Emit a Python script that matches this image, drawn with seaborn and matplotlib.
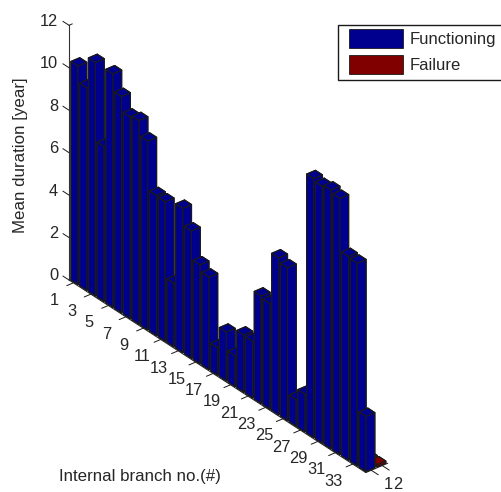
import numpy as np
import seaborn as sns
import matplotlib
matplotlib.use('Agg')
import matplotlib.pyplot as plt
from matplotlib.patches import Patch, Rectangle
from mpl_toolkits.mplot3d import proj3d

branches = list(range(1, 35))
functioning = [10.3, 9.55, 11.0, 7.3, 11.0, 10.2, 9.5, 9.6, 8.9, 6.6, 6.57, 3.0,
               6.8, 6.0, 4.67, 4.36, 1.3, 2.3, 1.46, 2.7, 2.67, 5.07, 4.98, 7.4,
               7.2, 1.26, 1.78, 12.2, 12.1, 12.2, 12.07, 9.6, 9.55, 2.6]
failure = [0.1] * 34
series_names = ['Functioning', 'Failure']
branch_ticks = list(range(1, 34, 2))
duration_ticks = [0, 2, 4, 6, 8, 10, 12]
state_ticks = [1, 2]

sns.set_theme(style='white')
plt.rcParams['font.family'] = ['Liberation Sans', 'DejaVu Sans']
colors = sns.color_palette(['#00008f', '#800000'])

W, H = 501, 492
fig = plt.figure(figsize=(W / 100, H / 100), dpi=100)
ax = fig.add_axes([-0.5, -0.5, 2, 2], projection='3d', proj_type='ortho',
                  computed_zorder=False)

# back to front, so the painter order is right
for n, b in enumerate(branches):
    ax.bar3d(b - 0.4, 1.6, 0, 0.8, 0.8, failure[n], color=colors[1], edgecolor='k',
             shade=False, linewidth=0.85, zorder=10 + 2 * n)
    ax.bar3d(b - 0.4, 0.6, 0, 0.8, 0.8, functioning[n], color=colors[0], edgecolor='k',
             shade=False, linewidth=0.85, zorder=11 + 2 * n)

ax.set_xlim(0.5, 34.5)
ax.set_ylim(0.5, 2.5)
ax.set_zlim(0, 12)
ax.view_init(elev=31.7, azim=-39)
aspect = (472.6, 28.3, 300)
ax.set_box_aspect(aspect)
ax.set_axis_off()

# axes lines and ticks
line = dict(color='k', lw=0.7, zorder=2)
ax.plot([0.5, 0.5], [0.5, 0.5], [0, 12], color='#333333', lw=0.8, zorder=2)
ax.plot([0.5, 34.5], [0.5, 0.5], [0, 0], **line)
ax.plot([34.5, 34.5], [0.5, 2.5], [0, 0], **line)
ax.plot([0.5, 0.5], [0.5, 0.8], [12, 12], **line)
for t in branch_ticks:
    ax.plot([t, t], [0.5, -0.1], [0, 0], **line)
for t in duration_ticks:
    ax.plot([0.5, -0.2], [0.5, 0.5], [t, t], **line)
for t in state_ticks:
    ax.plot([34.5, 35.3], [t, t], [0, 0], **line)


def to_px(x, y, z):
    px, py, _ = proj3d.proj_transform(x, y, z, ax.get_proj())
    return ax.transData.transform((px, py))


# line the 3d box up with the picture: axis corner at (69, 280), far end 297 px along
fig.canvas.draw()
p0, p1 = to_px(0.5, 0.5, 0), to_px(34.5, 0.5, 0)
ax.set_box_aspect(aspect, zoom=296.8 / (p1[0] - p0[0]))
fig.canvas.draw()
p0 = to_px(0.5, 0.5, 0)
shift = (69 - p0[0], H - 280 - p0[1])
pos = ax.get_position()
ax.set_position([pos.x0 + shift[0] / W, pos.y0 + shift[1] / H, pos.width, pos.height])
fig.canvas.draw()


def tick_label(point, dx, dy, text, ha='center'):
    p = to_px(*point)
    fig.text((p[0] + dx) / W, (p[1] + dy) / H, text, fontsize=11.8, ha=ha, va='center')


for t in branch_ticks:
    tick_label((t, 0.5, 0), -19, -17.2, str(t))
for t in duration_ticks:
    tick_label((0.5, 0.5, t), -11, 4, str(t), ha='right')
# these two share a baseline in the original
p_state = to_px(34.5, state_ticks[0], 0)
for i, t in enumerate(state_ticks):
    fig.text((p_state[0] + 16.7 + 10 * i) / W, (p_state[1] - 14) / H, str(t), fontsize=11.8,
             ha='center', va='center')

fig.text(21 / W, 1 - 155 / H, 'Mean duration [year]', rotation=90, fontsize=12.2,
         ha='center', va='center')
fig.text(59 / W, 1 - 477 / H, 'Internal branch no.(#)', fontsize=12.2, ha='left', va='center')

# legend frame runs off the right edge of the picture
fig.add_artist(Rectangle((338 / W, 1 - 80 / H), 170 / W, 55 / H, transform=fig.transFigure,
                         facecolor='white', edgecolor='k', linewidth=1.0, zorder=5))
handles = [Patch(facecolor=colors[i], edgecolor='k', linewidth=0.6, label=series_names[i])
           for i in range(2)]
leg = fig.legend(handles=handles, loc='upper left', bbox_to_anchor=(349 / W, 1 - 29 / H),
                 borderaxespad=0, fontsize=12, handlelength=3.23, handleheight=1.38,
                 labelspacing=0.44, handletextpad=0.4, borderpad=0, frameon=False)
leg.set_zorder(6)

fig.savefig('out.png', dpi=100)
